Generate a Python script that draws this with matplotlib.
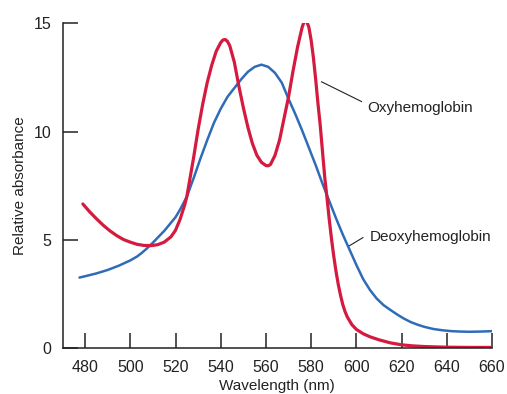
import matplotlib
matplotlib.use('Agg')
import matplotlib.pyplot as plt

plt.rcParams['font.family'] = ['Liberation Sans', 'DejaVu Sans']

# Oxyhemoglobin absorbance (red)
oxy_nm = [479, 482, 485, 488, 491, 494, 497, 500, 503, 506, 509, 512, 515, 518,
          520, 522, 524, 525, 526, 528, 530, 532, 534, 536, 538, 540, 541, 542,
          543, 544, 546, 548, 550, 552, 554, 556, 558, 560, 561, 562, 564, 566,
          568, 570, 572, 574, 576, 577, 578, 579, 580, 581, 582, 583, 584, 585,
          586, 587, 588, 589, 590, 591, 592, 593, 594, 595, 596, 598, 600, 603,
          606, 610, 615, 620, 625, 630, 640, 650, 660]
oxy_abs = [6.66, 6.3, 5.98, 5.68, 5.42, 5.2, 5.02, 4.9, 4.8, 4.75, 4.74, 4.78, 4.9, 5.15,
           5.45, 5.95, 6.6, 7.0, 7.6, 8.8, 10.1, 11.25, 12.25, 13.05, 13.7, 14.1, 14.22, 14.24,
           14.15, 13.95, 13.2, 12.1, 11.1, 10.2, 9.45, 8.9, 8.58, 8.43, 8.42, 8.48, 8.9, 9.6,
           10.6, 11.6, 12.8, 13.9, 14.8, 15.1, 15.08, 14.8, 14.2, 13.4, 12.4, 11.3, 10.3, 9.1,
           7.9, 6.95, 5.95, 5.05, 4.25, 3.55, 2.95, 2.45, 2.02, 1.7, 1.45, 1.1, 0.88, 0.68,
           0.54, 0.4, 0.26, 0.17, 0.12, 0.09, 0.06, 0.05, 0.05]

# Deoxyhemoglobin absorbance (blue)
deoxy_nm = [477.5, 480, 485, 490, 495, 500, 503, 505, 507, 510, 515, 520, 522, 525,
            528, 531, 534, 537, 540, 543, 546, 549, 552, 555, 558, 561, 564, 567,
            570, 573, 576, 579, 582, 585, 588, 591, 594, 597, 600, 603, 606, 609,
            612, 615, 618, 621, 624, 627, 630, 634, 638, 642, 646, 650, 655, 660]
deoxy_abs = [3.27, 3.33, 3.46, 3.62, 3.82, 4.06, 4.24, 4.4, 4.58, 4.88, 5.42, 6.05, 6.4, 7.0,
             7.85, 8.75, 9.6, 10.4, 11.05, 11.6, 12.0, 12.4, 12.75, 12.98, 13.08, 12.98, 12.7, 12.25,
             11.5, 10.8, 10.05, 9.25, 8.45, 7.6, 6.8, 6.0, 5.25, 4.55, 3.85, 3.2, 2.7, 2.3,
             2.0, 1.78, 1.57, 1.38, 1.22, 1.1, 1.0, 0.9, 0.84, 0.8, 0.78, 0.77, 0.78, 0.8]

x_ticks = [480, 500, 520, 540, 560, 580, 600, 620, 640, 660]
y_ticks = [0, 5, 10, 15]

RED = '#d51a40'
BLUE = '#2f6cb8'
INK = '#222222'

fig = plt.figure(figsize=(5.07, 3.94), dpi=100)
ax = fig.add_axes([0.1233, 0.1155, 0.8471, 0.8261])

ax.plot(deoxy_nm, deoxy_abs, color=BLUE, lw=1.8, solid_capstyle='round', solid_joinstyle='round')
ax.plot(oxy_nm, oxy_abs, color=RED, lw=2.3, solid_capstyle='round', solid_joinstyle='round')

ax.set_xlim(470, 660)
ax.set_ylim(0, 15)
ax.set_xticks(x_ticks)
ax.set_yticks(y_ticks)

for side in ['top', 'right']:
    ax.spines[side].set_visible(False)
for side in ['left', 'bottom']:
    ax.spines[side].set_linewidth(1.1)
    ax.spines[side].set_color(INK)

ax.tick_params(direction='in', length=11, width=1.1, color=INK,
               labelsize=11.5, labelcolor=INK, pad=8)

ax.set_xlabel('Wavelength (nm)', fontsize=11, color=INK, labelpad=3.5)
ax.set_ylabel('Relative absorbance', fontsize=11, color=INK, labelpad=5)

# curve labels with leader lines
ax.plot([584.6, 602.3], [12.29, 11.38], color=INK, lw=0.8)
ax.text(604.6, 11.09, 'Oxyhemoglobin', fontsize=11, color=INK, va='center', ha='left')
ax.plot([597.0, 602.9], [4.74, 5.11], color=INK, lw=0.8)
ax.text(605.9, 5.16, 'Deoxyhemoglobin', fontsize=11, color=INK, va='center', ha='left')

fig.savefig('out.png', dpi=100)
